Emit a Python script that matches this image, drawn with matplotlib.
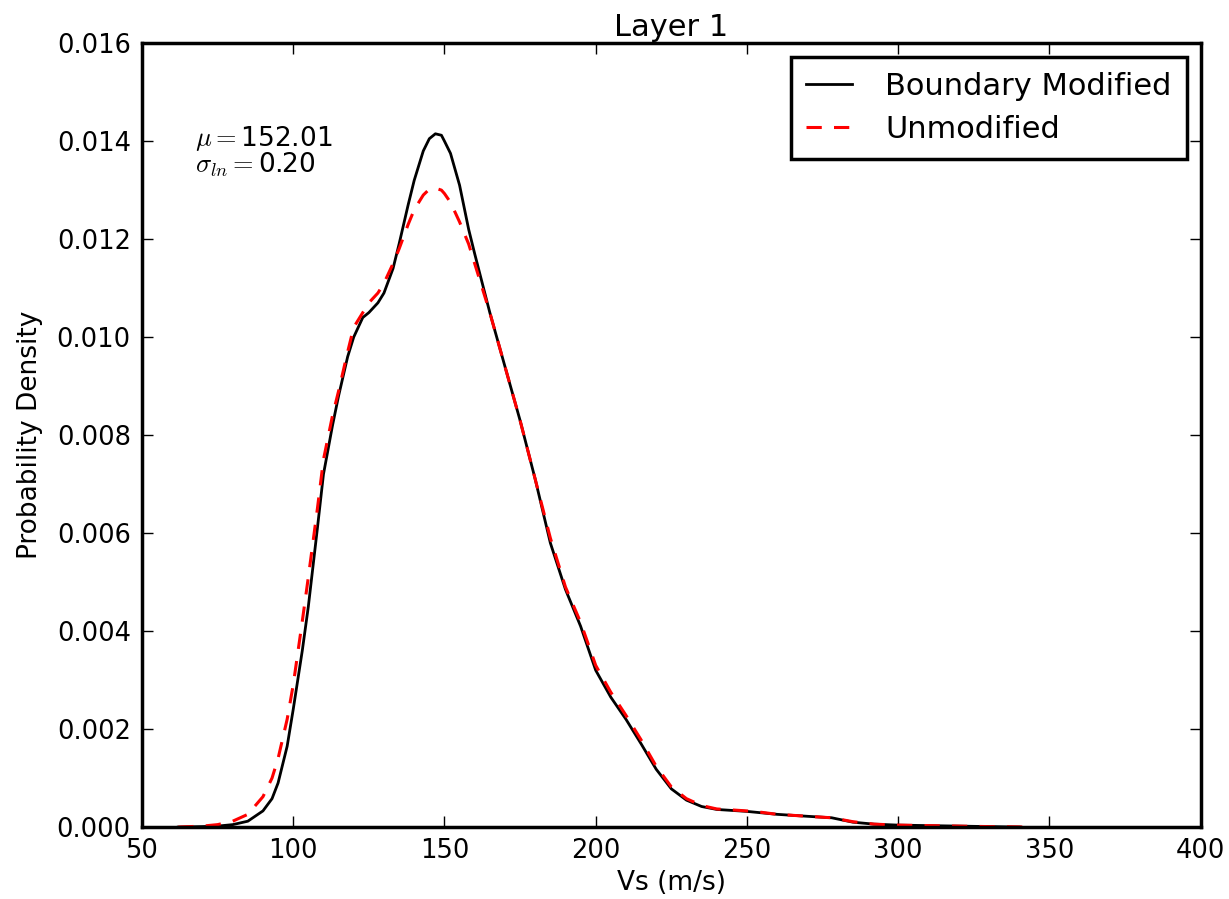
import matplotlib
matplotlib.use("Agg")
import matplotlib.pyplot as plt
import numpy as np

# values (Vs in m/s, density)
vs_mod = [62, 70, 75, 80, 85, 90, 93, 95, 98, 100, 103, 105, 108, 110, 113, 115, 118,
          120, 123, 125, 128, 130, 133, 135, 138, 140, 143, 145, 147, 149, 150, 152,
          155, 158, 160, 165, 170, 175, 180, 185, 190, 195, 200, 205, 210, 215, 220,
          225, 230, 235, 240, 245, 250, 255, 260, 270, 278, 285, 292, 300, 310, 320, 330, 340]
pd_mod = [0.0, 0.00001, 0.00002, 0.00005, 0.00012, 0.00033, 0.00058, 0.0009, 0.00165, 0.0024,
          0.0036, 0.0045, 0.0061, 0.0072, 0.0082, 0.0088, 0.0096,
          0.0100, 0.0104, 0.0105, 0.0107, 0.0109, 0.0114, 0.0119, 0.0127, 0.0132, 0.0138,
          0.01405, 0.01415, 0.01412, 0.0140, 0.01375,
          0.0131, 0.0122, 0.0117, 0.0105, 0.0094, 0.0083, 0.0071, 0.0058, 0.00485, 0.0041,
          0.0032, 0.00265, 0.0022, 0.0017, 0.00118,
          0.00078, 0.00055, 0.00042, 0.00036, 0.00034, 0.00032, 0.00029, 0.00026, 0.00022,
          0.00019, 0.0001, 0.00006, 0.00004, 0.00003, 0.00002, 0.00001, 0.0]

vs_unmod = [62, 70, 75, 80, 85, 90, 93, 95, 98, 100, 103, 105, 108, 110, 113, 115, 118,
            120, 123, 125, 128, 130, 133, 135, 138, 140, 143, 145, 147, 149, 150, 152,
            155, 158, 160, 165, 170, 175, 180, 185, 190, 195, 200, 205, 210, 215, 220,
            225, 230, 235, 240, 245, 250, 255, 260, 270, 278, 285, 292, 300, 310, 320, 330, 345]
pd_unmod = [0.0, 0.00002, 0.00005, 0.00012, 0.00026, 0.00062, 0.001, 0.0014, 0.0022, 0.0029,
            0.0042, 0.0051, 0.0065, 0.0075, 0.0084, 0.0089, 0.0097,
            0.0102, 0.0105, 0.0107, 0.0109, 0.0111, 0.0115, 0.0118, 0.0123, 0.0126, 0.0129,
            0.01302, 0.01304, 0.0130, 0.01293, 0.01275,
            0.01235, 0.0119, 0.0115, 0.0105, 0.0094, 0.0083, 0.0071, 0.0059, 0.0049, 0.00418,
            0.0033, 0.00275, 0.00228, 0.00178, 0.00124,
            0.00082, 0.00058, 0.00044, 0.00037, 0.00035, 0.00033, 0.0003, 0.00026, 0.00022,
            0.00019, 0.00011, 0.00006, 0.00004, 0.00003, 0.00002, 0.00001, 0.0]

mu = 152.01
sigma_ln = 0.20

plt.rcParams['mathtext.fontset'] = 'cm'

fig = plt.figure(figsize=(12.29, 8.99), dpi=100)
ax = fig.add_axes([0.1155, 0.080, 0.8615, 0.872])

ax.plot(vs_mod, pd_mod, color='black', lw=2, label='Boundary Modified')
ax.plot(vs_unmod, pd_unmod, color='red', lw=2.2, ls=(0, (5, 4)), label='Unmodified')

ax.set_xlim(50, 400)
ax.set_ylim(0, 0.016)
ax.set_xticks(np.arange(50, 401, 50))
ax.set_yticks(np.arange(0, 0.0161, 0.002))
ax.set_yticklabels(['%.3f' % v for v in np.arange(0, 0.0161, 0.002)])
ax.tick_params(direction='in', top=True, right=True, length=8, width=1, labelsize=18.5, pad=8)
for s in ax.spines.values():
    s.set_linewidth(2.5)

ax.set_title('Layer 1', fontsize=22, pad=5)
ax.set_xlabel('Vs (m/s)', fontsize=19, labelpad=4)
ax.set_ylabel('Probability Density', fontsize=19, labelpad=10)

ax.text(67.5, 0.0139, r'$\mu=$' + '%.2f' % mu, fontsize=19)
ax.text(67.5, 0.01335, r'$\sigma_{ln}=$' + '%.2f' % sigma_ln, fontsize=19)

leg = ax.legend(loc='upper right', fontsize=22, fancybox=False, handlelength=1.5,
                borderpad=0.5, labelspacing=0.45, handletextpad=1.1, borderaxespad=0.45)
leg.get_frame().set_edgecolor('black')
leg.get_frame().set_linewidth(2.5)
leg.get_frame().set_alpha(1)

fig.savefig('out.png', dpi=100)
